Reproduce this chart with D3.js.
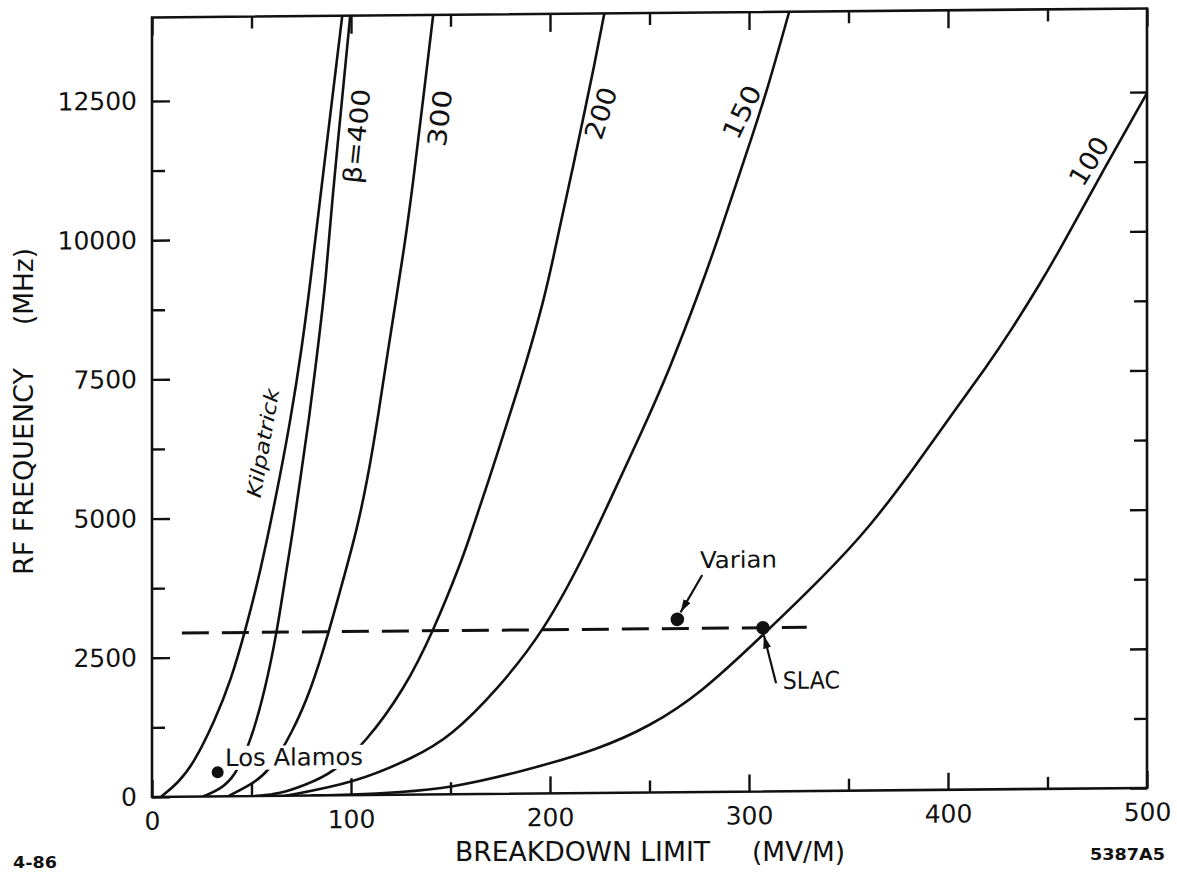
<!DOCTYPE html>
<html>
<head>
<meta charset="utf-8">
<script src="https://cdn.jsdelivr.net/npm/d3@7/dist/d3.min.js"></script>
<style>
body { margin: 0; background: #fff; }
text { font-family: "DejaVu Sans", sans-serif; fill: #111; }
</style>
</head>
<body>
<div id="chart"></div>
<script>
// curves: [breakdown limit (MV/m), rf frequency (MHz)]
var kilpatrick = [[4.5,0],[13.1,247],[21.1,604],[31.7,1372],[39.7,2088],[46.7,2948],[54.3,4005],
	[62.3,5368],[69.4,6695],[75.4,8058],[79.7,9260],[84.4,10695],[90.5,12489],[95.6,14000]];
var beta400 = [[25.6,0],[33.7,115],[41.7,346],[49.8,1005],[56.8,1902],[62.8,2943],[67.3,4001],
	[70.9,4772],[74.4,5669],[78.9,6745],[83.4,8055],[87.4,9257],[90.5,10693],[95.5,12487],[99.6,14000]];
var beta300 = [[38.2,0],[49.3,199],[58.3,412],[70.4,1127],[79.9,1897],[88.9,2935],[97,3992],
	[102.5,4708],[108,5604],[113.6,6788],[118.6,7990],[122.6,8887],[126.6,9783],[131.2,10985],
	[136.2,12474],[141.3,14000]];
var beta200 = [[51.8,0],[64.3,33],[76.9,191],[91,402],[107.5,952],[126.6,1881],[141.2,2918],
	[155.8,4206],[160.3,4690],[168.8,5585],[179.4,6767],[187.4,7662],[197,8862],[202.5,9758],
	[206,10350],[211.6,11246],[216.8,12143],[222.1,13039],[227.3,14000]];
var beta150 = [[66.8,0],[102,218],[132.2,676],[149.8,1029],[173.4,1866],[197.5,2936],[218.6,4365],
	[230.2,5260],[247.2,6565],[259.3,7531],[275.4,9017],[285.4,10037],[293,10861],[301,11703],
	[309.6,12651],[320.2,14000]];
var beta100 = [[80,0],[99.5,9],[124.6,45],[149.8,113],[183.4,372],[225.1,789],[250.3,1194],
	[275.4,1761],[306.5,2793],[336.7,3825],[360.8,4732],[384.4,5857],[402.5,6767],[419.6,7605],
	[431.2,8212],[446.2,9070],[455.3,9623],[476.4,10999],[500,12480]];

var curveNames = ["Kilpatrick", "\u03B2=400", "300", "200", "150", "100"];

var xTicks = [0, 100, 200, 300, 400, 500];
var xMinor = [50, 150, 250, 350, 450];
var yTicks = [0, 2500, 5000, 7500, 10000, 12500];
var yMinor = [1250, 3750, 6250, 8750, 11250];

// 3000 MHz line (dashed) and the marked machines
var sbandLine = [[15, 2940], [329, 2940]];
var siteNames = ["Los Alamos", "Varian", "SLAC"];
var siteE = [33, 264, 307];
var siteF = [433, 3105, 2940];

var W = 1177, H = 880;
var x = d3.scaleLinear().domain([0, 500]).range([152, 1147]);
var y = d3.scaleLinear().domain([0, 14000]).range([797, 17.5]);

var svg = d3.select("#chart").append("svg")
	.attr("width", W)
	.attr("height", H);

// the scanned frame is a little skewed, right side sits higher
var plot = svg.append("g")
	.attr("transform", "translate(152,0) skewY(-0.52) translate(-152,0)");

var defs = svg.append("defs");
defs.append("clipPath").attr("id", "clip")
	.append("rect")
	.attr("x", x(0)).attr("y", y(14000))
	.attr("width", x(500) - x(0)).attr("height", y(0) - y(14000));

defs.append("marker")
	.attr("id", "head")
	.attr("markerUnits", "userSpaceOnUse")
	.attr("markerWidth", 14).attr("markerHeight", 8)
	.attr("refX", 13).attr("refY", 4)
	.attr("orient", "auto")
	.append("path")
	.attr("d", "M0,0 L13,4 L0,8 Z")
	.attr("fill", "#111");

// axes: major + minor ticks on all four sides, ticks point inward
function styleAxis(g) {
	g.select(".domain").remove();
	g.selectAll("line").attr("stroke", "#111").attr("stroke-width", 2.4);
	g.selectAll("text").attr("font-size", 25).attr("fill", "#111")
		.attr("font-family", "DejaVu Sans, sans-serif");
}

plot.append("g").attr("transform", "translate(0," + y(0) + ")")
	.call(d3.axisBottom(x).tickValues(xTicks).tickSizeInner(-17).tickSizeOuter(0).tickPadding(15))
	.call(styleAxis);
plot.append("g").attr("transform", "translate(0," + y(0) + ")")
	.call(d3.axisBottom(x).tickValues(xMinor).tickSizeInner(-12).tickSizeOuter(0).tickFormat(""))
	.call(styleAxis);
plot.append("g").attr("transform", "translate(0," + y(14000) + ")")
	.call(d3.axisTop(x).tickValues(xTicks).tickSizeInner(-18).tickSizeOuter(0).tickFormat(""))
	.call(styleAxis);
plot.append("g").attr("transform", "translate(0," + y(14000) + ")")
	.call(d3.axisTop(x).tickValues(xMinor).tickSizeInner(-12).tickSizeOuter(0).tickFormat(""))
	.call(styleAxis);

plot.append("g").attr("transform", "translate(" + x(0) + ",0)")
	.call(d3.axisLeft(y).tickValues(yTicks).tickSizeInner(-18).tickSizeOuter(0).tickPadding(15).tickFormat(d3.format("d")))
	.call(styleAxis);
plot.append("g").attr("transform", "translate(" + x(0) + ",0)")
	.call(d3.axisLeft(y).tickValues(yMinor).tickSizeInner(-13).tickSizeOuter(0).tickFormat(""))
	.call(styleAxis);
plot.append("g").attr("transform", "translate(" + x(500) + ",0)")
	.call(d3.axisRight(y).tickValues(yTicks).tickSizeInner(-17).tickSizeOuter(0).tickFormat(""))
	.call(styleAxis);
plot.append("g").attr("transform", "translate(" + x(500) + ",0)")
	.call(d3.axisRight(y).tickValues(yMinor).tickSizeInner(-13).tickSizeOuter(0).tickFormat(""))
	.call(styleAxis);

plot.append("rect")
	.attr("x", x(0)).attr("y", y(14000))
	.attr("width", x(500) - x(0)).attr("height", y(0) - y(14000))
	.attr("fill", "none").attr("stroke", "#111").attr("stroke-width", 2.6);

// curves (b-spline through the read points, smooths out reading noise)
var line = d3.line()
	.x(function(d) { return x(d[0]); })
	.y(function(d) { return y(d[1]); })
	.curve(d3.curveBasis);

var curves = [kilpatrick, beta400, beta300, beta200, beta150, beta100];
var curveLayer = plot.append("g").attr("clip-path", "url(#clip)");
curveLayer.selectAll("path.curve").data(curves).enter().append("path")
	.attr("class", "curve")
	.attr("d", line)
	.attr("fill", "none")
	.attr("stroke", "#111")
	.attr("stroke-width", 2.6);

// dashed 3000 MHz line
plot.append("path")
	.attr("d", d3.line().x(function(d) { return x(d[0]); }).y(function(d) { return y(d[1]); })(sbandLine))
	.attr("fill", "none")
	.attr("stroke", "#111")
	.attr("stroke-width", 3)
	.attr("stroke-dasharray", "27,13");

// curve labels, rotated along the curves
var labelAt = [[55.8, 6340, -80, 20, 110], [103, 11835, -84, 25, 95], [144.7, 12146, -83, 26, 57],
	[225.6, 12209, -72, 26, 53], [296.5, 12207, -64, 26, 56], [470.9, 11268, -58, 26, 52]];
curveNames.forEach(function(name, i) {
	var p = labelAt[i];
	plot.append("text")
		.attr("transform", "translate(" + x(p[0]) + "," + y(p[1]) + ") rotate(" + p[2] + ")")
		.attr("text-anchor", "middle")
		.attr("dominant-baseline", "central")
		.attr("font-size", p[3])
		.attr("font-style", i == 0 ? "italic" : "normal")
		.attr("textLength", p[4])
		.attr("lengthAdjust", "spacingAndGlyphs")
		.text(name);
});

// Los Alamos label sits on a white patch that breaks the curves
var la = plot.append("text")
	.attr("x", x(36.7)).attr("y", y(544))
	.attr("font-size", 24)
	.attr("textLength", 138)
	.attr("lengthAdjust", "spacingAndGlyphs")
	.text(siteNames[0]);
var bb = la.node().getBBox();
plot.insert("rect", function() { return la.node(); })
	.attr("x", bb.x - 3).attr("y", bb.y + 2)
	.attr("width", bb.width + 6).attr("height", bb.height - 4)
	.attr("fill", "#fff");

plot.append("text")
	.attr("x", x(275.4)).attr("y", y(4023))
	.attr("font-size", 23)
	.attr("textLength", 77)
	.attr("lengthAdjust", "spacingAndGlyphs")
	.text(siteNames[1]);
plot.append("text")
	.attr("x", x(317)).attr("y", y(1981))
	.attr("dominant-baseline", "central")
	.attr("font-size", 24)
	.attr("textLength", 57)
	.attr("lengthAdjust", "spacingAndGlyphs")
	.text(siteNames[2]);

// arrows to Varian and SLAC
var arrows = [[[276.5, 3897], [265.6, 3230]], [[313.6, 1941], [307.5, 2800]]];
arrows.forEach(function(a) {
	plot.append("line")
		.attr("x1", x(a[0][0])).attr("y1", y(a[0][1]))
		.attr("x2", x(a[1][0])).attr("y2", y(a[1][1]))
		.attr("stroke", "#111").attr("stroke-width", 2.2)
		.attr("marker-end", "url(#head)");
});

plot.selectAll("circle.site").data(siteE).enter().append("circle")
	.attr("class", "site")
	.attr("cx", function(d) { return x(d); })
	.attr("cy", function(d, i) { return y(siteF[i]); })
	.attr("r", function(d, i) { return i == 0 ? 6 : 6.8; })
	.attr("fill", "#111");

// axis titles
svg.append("text").attr("x", 455).attr("y", 861)
	.attr("font-size", 27).attr("textLength", 255).attr("lengthAdjust", "spacingAndGlyphs")
	.text("BREAKDOWN LIMIT");
svg.append("text").attr("x", 752).attr("y", 861)
	.attr("font-size", 27).attr("textLength", 93).attr("lengthAdjust", "spacingAndGlyphs")
	.text("(MV/M)");
svg.append("text").attr("transform", "translate(33,575) rotate(-90)")
	.attr("font-size", 26).attr("textLength", 207).attr("lengthAdjust", "spacingAndGlyphs")
	.text("RF FREQUENCY");
svg.append("text").attr("transform", "translate(33,325) rotate(-90)")
	.attr("font-size", 26).attr("textLength", 77).attr("lengthAdjust", "spacingAndGlyphs")
	.text("(MHz)");

svg.append("text").attr("x", 13).attr("y", 868)
	.attr("font-size", 15).attr("font-weight", "bold")
	.attr("textLength", 44).attr("lengthAdjust", "spacingAndGlyphs")
	.text("4-86");
svg.append("text").attr("x", 1090).attr("y", 860)
	.attr("font-size", 16.5).attr("font-weight", "bold")
	.attr("textLength", 75).attr("lengthAdjust", "spacingAndGlyphs")
	.text("5387A5");
</script>
</body>
</html>
